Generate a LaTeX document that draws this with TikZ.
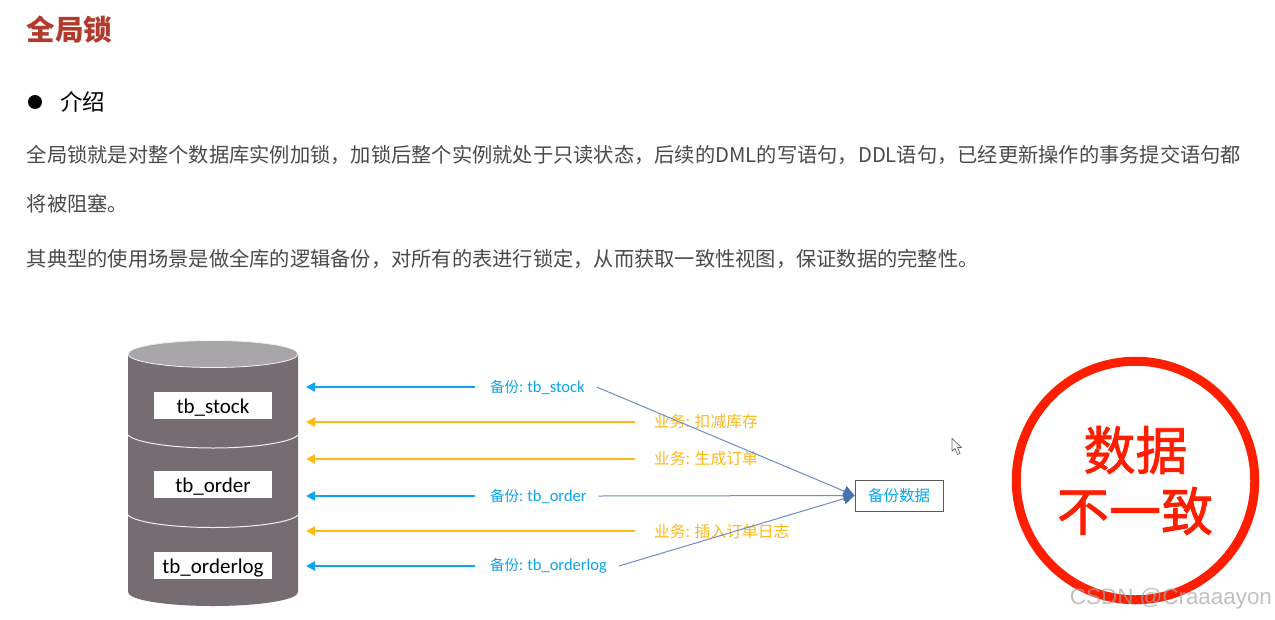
\documentclass[tikz,border=0pt]{standalone}
\usepackage{fontspec}
\usetikzlibrary{arrows.meta}
\setmainfont{Noto Sans CJK SC}
\newfontfamily\cjk{Noto Sans CJK SC}
\newfontfamily\stampfont[FakeBold=1.6]{Noto Sans CJK SC}
\newfontfamily\latn{Carlito}
\newfontfamily\wm{Liberation Sans}
\definecolor{titlered}{HTML}{B23A2C}
\definecolor{bodygrey}{HTML}{4A4A4A}
\definecolor{cylbody}{HTML}{766D73}
\definecolor{cyltop}{HTML}{A9A6A9}
\definecolor{bluetxt}{HTML}{0AA5EE}
\definecolor{orangetxt}{HTML}{FFB914}
\definecolor{thinblue}{HTML}{6E8CC4}
\definecolor{tipblue}{HTML}{4A70AE}
\definecolor{stamp}{HTML}{FF1E00}
\tikzset{
  plain/.style={inner sep=0pt,outer sep=0pt},
  bodytext/.style={plain,anchor=west,text=bodygrey,font=\cjk\fontsize{20.25}{24}\selectfont},
  tablebox/.style={plain,fill=white,minimum width=118pt,minimum height=27pt,text height=17pt,text depth=2pt,font=\latn\fontsize{21}{25}\selectfont,text=black},
  bluelabel/.style={plain,anchor=west,text=bluetxt,font=\fontsize{14.5}{17}\selectfont},
  orangelabel/.style={plain,anchor=west,text=orangetxt,font=\cjk\fontsize{15.8}{18}\selectfont},
  bluearrow/.style={draw=bluetxt,line width=2.4pt,-{Triangle[length=9pt,width=9pt]}},
  orangearrow/.style={draw=orangetxt,line width=2.4pt,-{Triangle[length=9pt,width=9pt]}},
  thinline/.style={draw=thinblue,line width=1pt,-{Triangle[length=11pt,width=11pt,color=tipblue]}},
  sepline/.style={draw=white!88!cylbody,line width=1pt},
  stamptext/.style={plain,text=stamp,font=\stampfont\fontsize{52}{60}\selectfont}
}
\newcommand{\blab}[1]{\hspace*{15pt}{\cjk 备份:} {\latn\fontsize{16.5}{18}\selectfont #1}\hspace*{12pt}}
\newcommand{\olab}[1]{\hspace*{19pt}#1}
\begin{document}
\begin{tikzpicture}[x=1pt,y=-1pt]
\useasboundingbox (0,0) rectangle (1275,619);
\fill[white] (0,0) rectangle (1275,619);

\node[plain,anchor=west,text=titlered,font=\cjk\bfseries\fontsize{28.5}{32}\selectfont] (title) at (27,30) {全局锁};
\node[plain,circle,fill=black,minimum size=14pt] (bullet) at (35,102) {};
\node[plain,anchor=west,text=black,font=\cjk\fontsize{22.5}{26}\selectfont] (intro) at (60,102) {介绍};
\node[bodytext] (l1) at (27,155) {全局锁就是对整个数据库实例加锁，加锁后整个实例就处于只读状态，后续的DML的写语句，DDL语句，已经更新操作的事务提交语句都};
\node[bodytext] (l2) at (27,204) {将被阻塞。};
\node[bodytext] (l3) at (27,259) {其典型的使用场景是做全库的逻辑备份，对所有的表进行锁定，从而获取一致性视图，保证数据的完整性。};

% cylinder
\fill[cylbody] (128,354) -- (128,592) .. controls (128,600) and (166,606) .. (213,606) .. controls (260,606) and (298,600) .. (298,592) -- (298,354) -- cycle;
\draw[sepline] (128,435) .. controls (134,442) and (170,448) .. (213,448) .. controls (256,448) and (292,442) .. (298,435);
\draw[sepline] (128,515) .. controls (134,522) and (170,527.5) .. (213,527.5) .. controls (256,527.5) and (292,522) .. (298,515);
\draw[fill=cyltop,draw=white!85!cyltop,line width=.8pt] (213,354) ellipse[x radius=85,y radius=13.5];

\node[tablebox] (t1) at (213,405.5) {tb\_stock};
\node[tablebox] (t2) at (213,484.5) {tb\_order};
\node[tablebox] (t3) at (213,565.5) {tb\_orderlog};

% free ends of the arrows
\coordinate (a1) at (306,387);
\coordinate (a2) at (306,422);
\coordinate (a3) at (306,459);
\coordinate (a4) at (306,496);
\coordinate (a5) at (306,531);
\coordinate (a6) at (306,566);

\node[bluelabel] (b1) at (475,387) {\blab{tb\_stock}};
\node[orangelabel] (o1) at (635,422) {\olab{业务: 扣减库存}};
\node[orangelabel] (o2) at (635,459) {\olab{业务: 生成订单}};
\node[bluelabel] (b2) at (475,496) {\blab{tb\_order}};
\node[orangelabel] (o3) at (635,531) {\olab{业务: 插入订单日志}};
\node[bluelabel] (b3) at (475,566) {\blab{tb\_orderlog}};

\draw[bluearrow] (b1.west) -- (a1);
\draw[orangearrow] (o1.west) -- (a2);
\draw[orangearrow] (o2.west) -- (a3);
\draw[bluearrow] (b2.west) -- (a4);
\draw[orangearrow] (o3.west) -- (a5);
\draw[bluearrow] (b3.west) -- (a6);

\node[draw=black!65,line width=.9pt,fill=white,inner sep=0pt,minimum width=88pt,minimum height=31pt,text=bluetxt,font=\cjk\fontsize{15.5}{18}\selectfont] (backup) at (899,495.5) {备份数据};

\draw[thinline] (b1.east) -- (backup.west);
\draw[thinline] (b2.east) -- (backup.west);
\draw[thinline] (b3.east) -- (backup.west);

% mouse cursor
\draw[fill=white,draw=black!60,line width=.7pt,line join=round] (952,438.5) -- (952,451) -- (955,448.5) -- (957.5,454.5) -- (960,453.5) -- (957.5,447.5) -- (961.5,447.5) -- cycle;

% stamp
\node[plain,circle,draw=stamp,line width=9pt,minimum size=238.5pt] (ring) at (1135.5,480.5) {};
\node[stamptext] (s1) at (1135.5,450) {数据};
\node[stamptext] (s2) at (1135,511) {不一致};

% watermark
\node[plain,anchor=east,text=black!35,opacity=.7,font=\wm\fontsize{22.4}{26}\selectfont] (wmk) at (1272,599) {CSDN @Craaaayon};
\end{tikzpicture}
\end{document}
